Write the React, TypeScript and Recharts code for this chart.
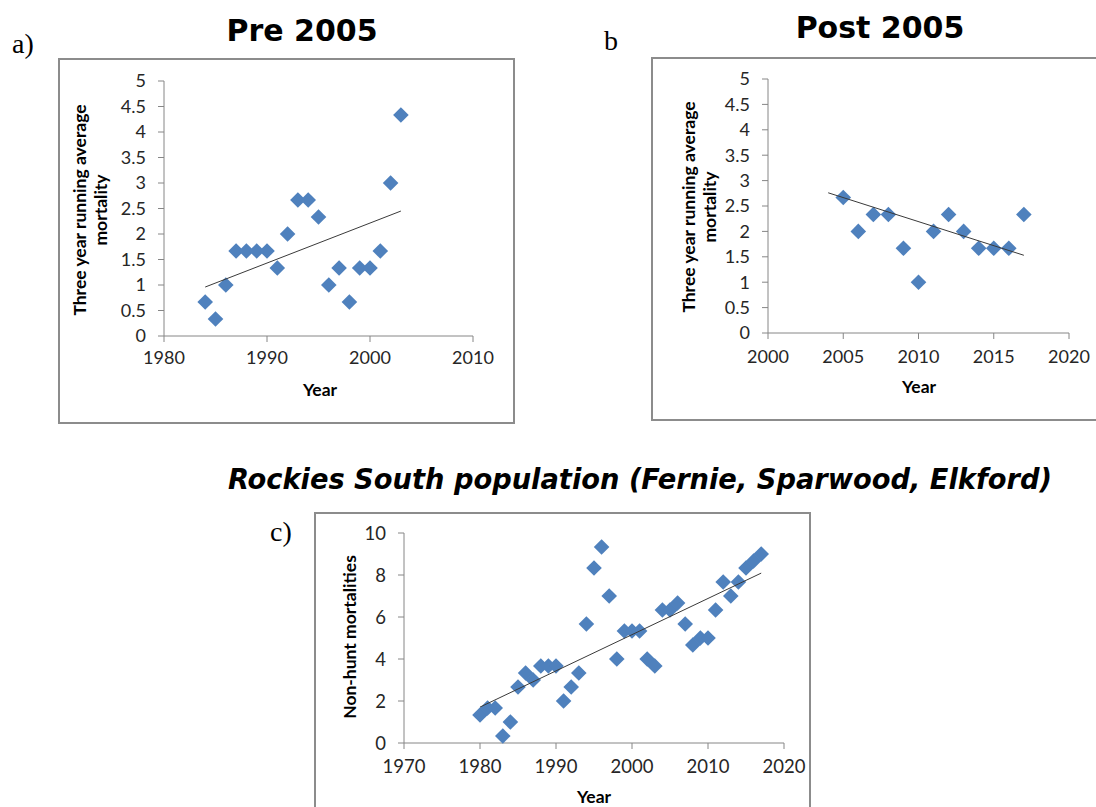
import { ScatterChart, Scatter, XAxis, YAxis } from "recharts";

// a) Pre 2005 – three year running average mortality
const preYears = [1984, 1985, 1986, 1987, 1988, 1989, 1990, 1991, 1992, 1993, 1994, 1995, 1996, 1997, 1998, 1999, 2000, 2001, 2002, 2003];
const preMortality = [0.667, 0.333, 1, 1.667, 1.667, 1.667, 1.667, 1.333, 2, 2.667, 2.667, 2.333, 1, 1.333, 0.667, 1.333, 1.333, 1.667, 3, 4.333];
const preTrendYears = [1984, 2003];
const preTrendValues = [0.96, 2.45];

// b) Post 2005
const postYears = [2005, 2006, 2007, 2008, 2009, 2010, 2011, 2012, 2013, 2014, 2015, 2016, 2017];
const postMortality = [2.667, 2, 2.333, 2.333, 1.667, 1, 2, 2.333, 2, 1.667, 1.667, 1.667, 2.333];
const postTrendYears = [2004, 2017];
const postTrendValues = [2.76, 1.53];

// c) Rockies South – non-hunt mortalities
const allYears = [1980, 1981, 1982, 1983, 1984, 1985, 1986, 1987, 1988, 1989, 1990, 1991, 1992, 1993, 1994, 1995, 1996, 1997, 1998, 1999, 2000, 2001, 2002, 2003, 2004, 2005, 2006, 2007, 2008, 2009, 2010, 2011, 2012, 2013, 2014, 2015, 2016, 2017];
const nonHunt = [1.333, 1.667, 1.667, 0.333, 1, 2.667, 3.333, 3, 3.667, 3.667, 3.667, 2, 2.667, 3.333, 5.667, 8.333, 9.333, 7, 4, 5.333, 5.333, 5.333, 4, 3.667, 6.333, 6.333, 6.667, 5.667, 4.667, 5, 5, 6.333, 7.667, 7, 7.667, 8.333, 8.667, 9];
const allTrendYears = [1980, 2017];
const allTrendValues = [1.71, 8.09];

const preXTicks = [1980, 1990, 2000, 2010];
const postXTicks = [2000, 2005, 2010, 2015, 2020];
const allXTicks = [1970, 1980, 1990, 2000, 2010, 2020];
const avgYTicks = [0, 0.5, 1, 1.5, 2, 2.5, 3, 3.5, 4, 4.5, 5];
const countYTicks = [0, 2, 4, 6, 8, 10];

const toPoints = (xs: number[], ys: number[]) => xs.map((x, i) => ({ x, y: ys[i] }));

const BLUE = "#4F81BD";
const AXIS = "#868686";
const TICK_TEXT = "#262626";
const FONT = "Lato, 'Open Sans', sans-serif";

const Diamond = (props: any) => {
  const { cx, cy } = props;
  if (cx == null || cy == null) return <g />;
  const r = 7.8;
  return (
    <polygon
      points={`${cx},${cy - r} ${cx + r},${cy} ${cx},${cy + r} ${cx - r},${cy}`}
      fill={BLUE}
    />
  );
};

interface Box { left: number; top: number; width: number; height: number }
interface Plot { left: number; top: number; right: number; bottom: number }

function Panel({ frame, plot, xTicks, yTicks, points, trend, fontSize, xGap }: {
  frame: Box; plot: Plot; xTicks: number[]; yTicks: number[];
  points: { x: number; y: number }[]; trend: { x: number; y: number }[];
  fontSize: number; xGap: number;
}) {
  const xAxisHeight = 40;
  const margin = {
    top: plot.top - frame.top,
    right: frame.left + frame.width - plot.right,
    left: 0,
    bottom: frame.top + frame.height - plot.bottom - xAxisHeight,
  };
  const tick = { fill: TICK_TEXT, fontSize, fontFamily: FONT };
  return (
    <>
      <div
        style={{
          position: "absolute", left: frame.left, top: frame.top,
          width: frame.width, height: frame.height,
          border: "2px solid #8c8c8c", boxSizing: "border-box", background: "#fff",
        }}
      />
      <div style={{ position: "absolute", left: frame.left, top: frame.top }}>
        <ScatterChart width={frame.width} height={frame.height} margin={margin}>
          <XAxis
            type="number" dataKey="x" domain={[xTicks[0], xTicks[xTicks.length - 1]]}
            ticks={xTicks} interval={0} height={xAxisHeight}
            tickSize={6} tickMargin={xGap} tick={tick}
            axisLine={{ stroke: AXIS }} tickLine={{ stroke: AXIS }}
          />
          <YAxis
            type="number" dataKey="y" domain={[yTicks[0], yTicks[yTicks.length - 1]]}
            ticks={yTicks} interval={0} width={plot.left - frame.left}
            tickSize={6} tickMargin={12} tick={tick}
            axisLine={{ stroke: AXIS }} tickLine={{ stroke: AXIS }}
          />
          <Scatter data={points} shape={Diamond} isAnimationActive={false} />
          <Scatter
            data={trend} line={{ stroke: "#3a3a3a", strokeWidth: 1 }}
            shape={() => <g />} isAnimationActive={false}
          />
        </ScatterChart>
      </div>
    </>
  );
}

export default function App() {
  const title = { fontFamily: "'DejaVu Sans', Verdana, sans-serif", fontWeight: 700, fill: "#000" };
  const axisTitle = { fontFamily: FONT, fontWeight: 700, fontSize: 17.5, fill: "#000" };
  const serif = { fontFamily: "'Liberation Serif', 'Times New Roman', serif", fontSize: 28, fill: "#000" };
  return (
    <div style={{ position: "absolute", left: 0, top: 0, width: 1096, height: 807, overflow: "hidden", background: "#fff" }}>
      <Panel
        frame={{ left: 58, top: 58, width: 457, height: 366 }}
        plot={{ left: 164, top: 81, right: 473, bottom: 336 }}
        xTicks={preXTicks} yTicks={avgYTicks}
        points={toPoints(preYears, preMortality)}
        trend={toPoints(preTrendYears, preTrendValues)}
        fontSize={18} xGap={9}
      />
      <Panel
        frame={{ left: 651, top: 57, width: 460, height: 364 }}
        plot={{ left: 768, top: 79, right: 1069, bottom: 333 }}
        xTicks={postXTicks} yTicks={avgYTicks}
        points={toPoints(postYears, postMortality)}
        trend={toPoints(postTrendYears, postTrendValues)}
        fontSize={18} xGap={11}
      />
      <Panel
        frame={{ left: 314, top: 512, width: 497, height: 310 }}
        plot={{ left: 404, top: 533, right: 784, bottom: 743 }}
        xTicks={allXTicks} yTicks={countYTicks}
        points={toPoints(allYears, nonHunt)}
        trend={toPoints(allTrendYears, allTrendValues)}
        fontSize={18.5} xGap={11}
      />
      <svg width={1096} height={807} style={{ position: "absolute", left: 0, top: 0, pointerEvents: "none" }}>
        <text x={12} y={53} {...serif}>a)</text>
        <text x={604} y={50} {...serif}>b</text>
        <text x={270} y={541} {...serif}>c)</text>

        <text x={302} y={41} textAnchor="middle" fontSize={30} {...title}>Pre 2005</text>
        <text x={880} y={38} textAnchor="middle" fontSize={30} {...title}>Post 2005</text>
        <text
          x={228} y={489} fontSize={28} fontStyle="italic" textLength={824}
          lengthAdjust="spacingAndGlyphs" {...title}
          fontFamily="'DejaVu Sans Condensed', 'DejaVu Sans', sans-serif"
        >
          Rockies South population (Fernie, Sparwood, Elkford)
        </text>

        <text transform="translate(86,210) rotate(-90)" textAnchor="middle" {...axisTitle}>Three year running average</text>
        <text transform="translate(107,210) rotate(-90)" textAnchor="middle" {...axisTitle}>mortality</text>
        <text x={320} y={396} textAnchor="middle" {...axisTitle}>Year</text>

        <text transform="translate(695,207) rotate(-90)" textAnchor="middle" {...axisTitle}>Three year running average</text>
        <text transform="translate(716,207) rotate(-90)" textAnchor="middle" {...axisTitle}>mortality</text>
        <text x={919} y={393} textAnchor="middle" {...axisTitle}>Year</text>

        <text transform="translate(356,637) rotate(-90)" textAnchor="middle" {...axisTitle}>Non-hunt mortalities</text>
        <text x={594} y={803} textAnchor="middle" {...axisTitle}>Year</text>
      </svg>
    </div>
  );
}
